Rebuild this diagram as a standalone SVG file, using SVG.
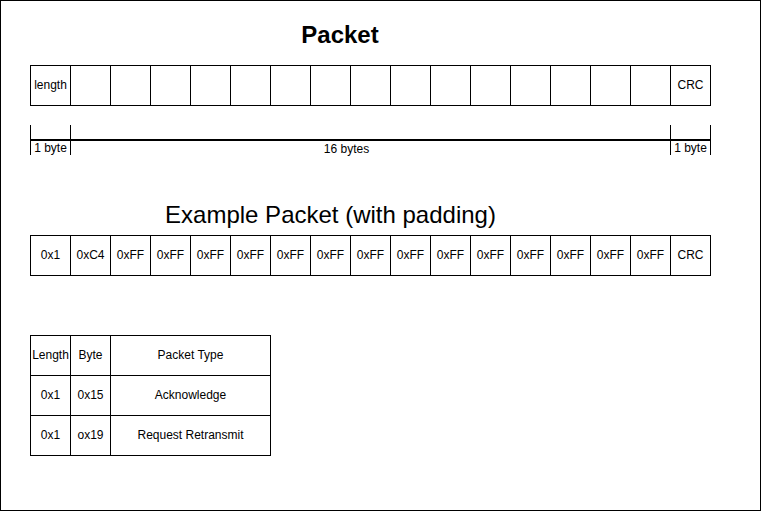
<svg xmlns="http://www.w3.org/2000/svg" width="762" height="512" viewBox="0 0 762 512">
<style>
.c{fill:#fff;stroke:#000;stroke-width:1}
.t{font-family:"Liberation Sans",Arial,Helvetica,sans-serif;font-size:12px;fill:#000;text-anchor:middle}
.h{font-family:"Liberation Sans",Arial,Helvetica,sans-serif;font-size:24px;fill:#000;text-anchor:middle}
.d{stroke:#000;stroke-width:1;fill:none}
</style>
<rect x="0" y="0" width="762" height="512" fill="#fff"/>
<rect x="0.5" y="0.5" width="760" height="510" fill="none" stroke="#000"/>
<g id="title-packet"><text class="h" x="340" y="43" font-weight="bold">Packet</text></g>
<g id="packet">
<rect class="c" x="30.5" y="65.5" width="40" height="40"/><text class="t" x="50.5" y="89">length</text>
<rect class="c" x="70.5" y="65.5" width="40" height="40"/>
<rect class="c" x="110.5" y="65.5" width="40" height="40"/>
<rect class="c" x="150.5" y="65.5" width="40" height="40"/>
<rect class="c" x="190.5" y="65.5" width="40" height="40"/>
<rect class="c" x="230.5" y="65.5" width="40" height="40"/>
<rect class="c" x="270.5" y="65.5" width="40" height="40"/>
<rect class="c" x="310.5" y="65.5" width="40" height="40"/>
<rect class="c" x="350.5" y="65.5" width="40" height="40"/>
<rect class="c" x="390.5" y="65.5" width="40" height="40"/>
<rect class="c" x="430.5" y="65.5" width="40" height="40"/>
<rect class="c" x="470.5" y="65.5" width="40" height="40"/>
<rect class="c" x="510.5" y="65.5" width="40" height="40"/>
<rect class="c" x="550.5" y="65.5" width="40" height="40"/>
<rect class="c" x="590.5" y="65.5" width="40" height="40"/>
<rect class="c" x="630.5" y="65.5" width="40" height="40"/>
<rect class="c" x="670.5" y="65.5" width="40" height="40"/><text class="t" x="690.5" y="89">CRC</text>
</g>
<g id="dimensions">
<path class="d" d="M30.5 125V155M70.5 125V155M670.5 125V155M710.5 125V155"/>
<path d="M30.5 140H710.5" stroke="#000" stroke-width="2"/>
<text class="t" x="50.5" y="152">1 byte</text>
<text class="t" x="346.5" y="153">16 bytes</text>
<text class="t" x="690.5" y="152">1 byte</text>
</g>
<g id="title-example"><text class="h" x="330.5" y="223">Example Packet (with padding)</text></g>
<g id="example">
<rect class="c" x="30.5" y="235.5" width="40" height="40"/><text class="t" x="50.5" y="259">0x1</text>
<rect class="c" x="70.5" y="235.5" width="40" height="40"/><text class="t" x="90.5" y="259">0xC4</text>
<rect class="c" x="110.5" y="235.5" width="40" height="40"/><text class="t" x="130.5" y="259">0xFF</text>
<rect class="c" x="150.5" y="235.5" width="40" height="40"/><text class="t" x="170.5" y="259">0xFF</text>
<rect class="c" x="190.5" y="235.5" width="40" height="40"/><text class="t" x="210.5" y="259">0xFF</text>
<rect class="c" x="230.5" y="235.5" width="40" height="40"/><text class="t" x="250.5" y="259">0xFF</text>
<rect class="c" x="270.5" y="235.5" width="40" height="40"/><text class="t" x="290.5" y="259">0xFF</text>
<rect class="c" x="310.5" y="235.5" width="40" height="40"/><text class="t" x="330.5" y="259">0xFF</text>
<rect class="c" x="350.5" y="235.5" width="40" height="40"/><text class="t" x="370.5" y="259">0xFF</text>
<rect class="c" x="390.5" y="235.5" width="40" height="40"/><text class="t" x="410.5" y="259">0xFF</text>
<rect class="c" x="430.5" y="235.5" width="40" height="40"/><text class="t" x="450.5" y="259">0xFF</text>
<rect class="c" x="470.5" y="235.5" width="40" height="40"/><text class="t" x="490.5" y="259">0xFF</text>
<rect class="c" x="510.5" y="235.5" width="40" height="40"/><text class="t" x="530.5" y="259">0xFF</text>
<rect class="c" x="550.5" y="235.5" width="40" height="40"/><text class="t" x="570.5" y="259">0xFF</text>
<rect class="c" x="590.5" y="235.5" width="40" height="40"/><text class="t" x="610.5" y="259">0xFF</text>
<rect class="c" x="630.5" y="235.5" width="40" height="40"/><text class="t" x="650.5" y="259">0xFF</text>
<rect class="c" x="670.5" y="235.5" width="40" height="40"/><text class="t" x="690.5" y="259">CRC</text>
</g>
<g id="table">
<rect class="c" x="30.5" y="335.5" width="40" height="40"/><text class="t" x="50.5" y="359">Length</text>
<rect class="c" x="70.5" y="335.5" width="40" height="40"/><text class="t" x="90.5" y="359">Byte</text>
<rect class="c" x="110.5" y="335.5" width="160" height="40"/><text class="t" x="190.5" y="359">Packet Type</text>
<rect class="c" x="30.5" y="375.5" width="40" height="40"/><text class="t" x="50.5" y="399">0x1</text>
<rect class="c" x="70.5" y="375.5" width="40" height="40"/><text class="t" x="90.5" y="399">0x15</text>
<rect class="c" x="110.5" y="375.5" width="160" height="40"/><text class="t" x="190.5" y="399">Acknowledge</text>
<rect class="c" x="30.5" y="415.5" width="40" height="40"/><text class="t" x="50.5" y="439">0x1</text>
<rect class="c" x="70.5" y="415.5" width="40" height="40"/><text class="t" x="90.5" y="439">ox19</text>
<rect class="c" x="110.5" y="415.5" width="160" height="40"/><text class="t" x="190.5" y="439">Request Retransmit</text>
</g>
</svg>
